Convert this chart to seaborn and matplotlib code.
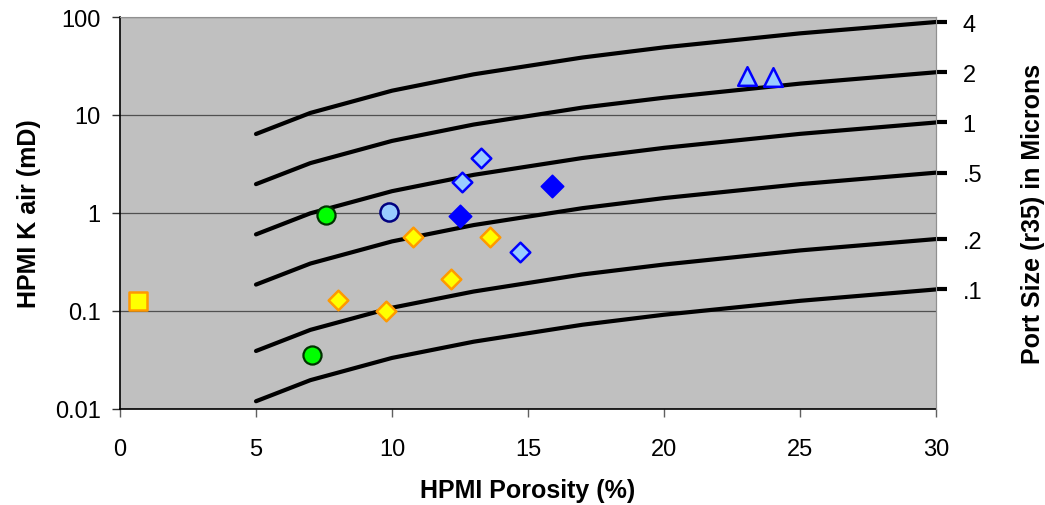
import matplotlib
matplotlib.use("Agg")
import matplotlib.pyplot as plt
import seaborn as sns
import numpy as np
import pandas as pd

# ---- data ----
curve_porosity = [5, 7, 10, 13, 17, 20, 25, 30]
curve_r35_labels = ["4", "2", "1", ".5", ".2", ".1"]
curve_k_4 = [6.4, 10.5, 17.7, 26.0, 38.6, 49.0, 68.1, 88.9]
curve_k_2 = [1.97, 3.23, 5.44, 7.99, 11.9, 15.0, 20.9, 27.3]
curve_k_1 = [0.605, 0.993, 1.67, 2.45, 3.64, 4.62, 6.42, 8.39]
curve_k_05 = [0.186, 0.305, 0.513, 0.753, 1.12, 1.42, 1.97, 2.58]
curve_k_02 = [0.0391, 0.0642, 0.108, 0.158, 0.236, 0.298, 0.415, 0.542]
curve_k_01 = [0.0120, 0.0197, 0.0332, 0.0486, 0.0724, 0.0916, 0.127, 0.166]

square_phi = [0.66]
square_k = [0.126]
green_phi = [7.57, 7.06]
green_k = [0.955, 0.0356]
ltcircle_phi = [9.89]
ltcircle_k = [1.02]
yellow_phi = [10.77, 8.01, 9.78, 12.17, 13.6]
yellow_k = [0.569, 0.129, 0.100, 0.212, 0.569]
blue_phi = [12.5, 15.88]
blue_k = [0.93, 1.89]
ltdiamond_phi = [12.57, 13.27, 14.7]
ltdiamond_k = [2.07, 3.64, 0.40]
triangle_phi = [23.05, 24.0]
triangle_k = [25.0, 24.6]

x_ticks = [0, 5, 10, 15, 20, 25, 30]
y_ticks = [0.01, 0.1, 1, 10, 100]
y_ticklabels = ["0.01", "0.1", "1", "10", "100"]

# ---- style ----
sns.set_style("ticks")
plt.rcParams["font.family"] = ["Liberation Sans", "DejaVu Sans"]
plt.rcParams["text.color"] = "black"
plt.rcParams["axes.labelcolor"] = "black"
plt.rcParams["xtick.labelcolor"] = "black"
plt.rcParams["ytick.labelcolor"] = "black"
FS = 17
LFS = 18

fig = plt.figure(figsize=(10.45, 5.06), dpi=100)
ax = fig.add_axes([120 / 1045, 96 / 506, 816 / 1045, 392 / 506])
ax.set_facecolor("#C0C0C0")

curves = [curve_k_4, curve_k_2, curve_k_1, curve_k_05, curve_k_02, curve_k_01]
for ks in curves:
    sns.lineplot(x=curve_porosity, y=ks, ax=ax, color="black", linewidth=3.0,
                 solid_capstyle="round", zorder=3)

def pts(xs, ys, marker, s, face, edge, lw):
    sns.scatterplot(x=xs, y=ys, ax=ax, marker=marker, s=s, color=face,
                    edgecolor=edge, linewidth=lw, zorder=4, legend=False)

pts(square_phi, square_k, "s", 175, "#FFFF00", "#FF9900", 1.8)
pts(green_phi, green_k, "o", 170, "#00FF00", "#003300", 1.6)
pts(ltcircle_phi, ltcircle_k, "o", 170, "#99CCFF", "#000080", 1.8)
pts(yellow_phi, yellow_k, "D", 100, "#FFFF00", "#FF9900", 1.8)
pts(blue_phi, blue_k, "D", 130, "#0000FF", "#0000FF", 1.2)
pts(ltdiamond_phi, ltdiamond_k, "D", 100, "#99CCFF", "#0000FF", 1.8)
pts(triangle_phi, triangle_k, "^", 180, "#99CCFF", "#0000FF", 1.8)

ax.set_yscale("log")
ax.set_xlim(0, 30)
ax.set_ylim(0.01, 100)
ax.set_xticks(x_ticks)
ax.set_xticklabels([str(t) for t in x_ticks])
ax.set_yticks(y_ticks)
ax.set_yticklabels(y_ticklabels)
ax.minorticks_off()
ax.yaxis.grid(True, color="#505050", linewidth=0.9)
ax.xaxis.grid(False)
ax.set_axisbelow(True)

for side in ["left", "bottom"]:
    ax.spines[side].set_color("black")
    ax.spines[side].set_linewidth(1.2)
for side in ["top", "right"]:
    ax.spines[side].set_visible(True)
    ax.spines[side].set_color("#909090")
    ax.spines[side].set_linewidth(0.8)

ax.tick_params(axis="y", direction="out", length=6, width=1.0, color="#303030",
               labelsize=FS, pad=8, labelcolor="black")
ax.tick_params(axis="x", direction="out", length=6, width=1.0, color="#606060",
               labelsize=FS, pad=15, labelcolor="black")

ax.set_xlabel("HPMI Porosity (%)", fontsize=LFS, fontweight="bold", labelpad=13,
              color="black")
ax.set_ylabel("HPMI K air (mD)", fontsize=LFS, fontweight="bold", labelpad=10,
              color="black")

# right axis for pore-size labels
ax2 = ax.twinx()
ax2.set_yscale("log")
ax2.set_ylim(ax.get_ylim())
ends = [c[-1] for c in curves]
ax2.set_yticks(ends)
ax2.set_yticklabels(curve_r35_labels)
ax2.minorticks_off()
ax2.tick_params(axis="y", direction="out", length=8, width=3.0, color="black",
                labelsize=FS, pad=11, labelcolor="black")
for side in ["left", "bottom", "top"]:
    ax2.spines[side].set_visible(False)
ax2.spines["right"].set_color("#909090")
ax2.spines["right"].set_linewidth(0.8)
ax2.set_ylabel("Port Size (r35) in Microns", fontsize=LFS, fontweight="bold",
               labelpad=28, color="black")

fig.savefig("out.png", dpi=100)
